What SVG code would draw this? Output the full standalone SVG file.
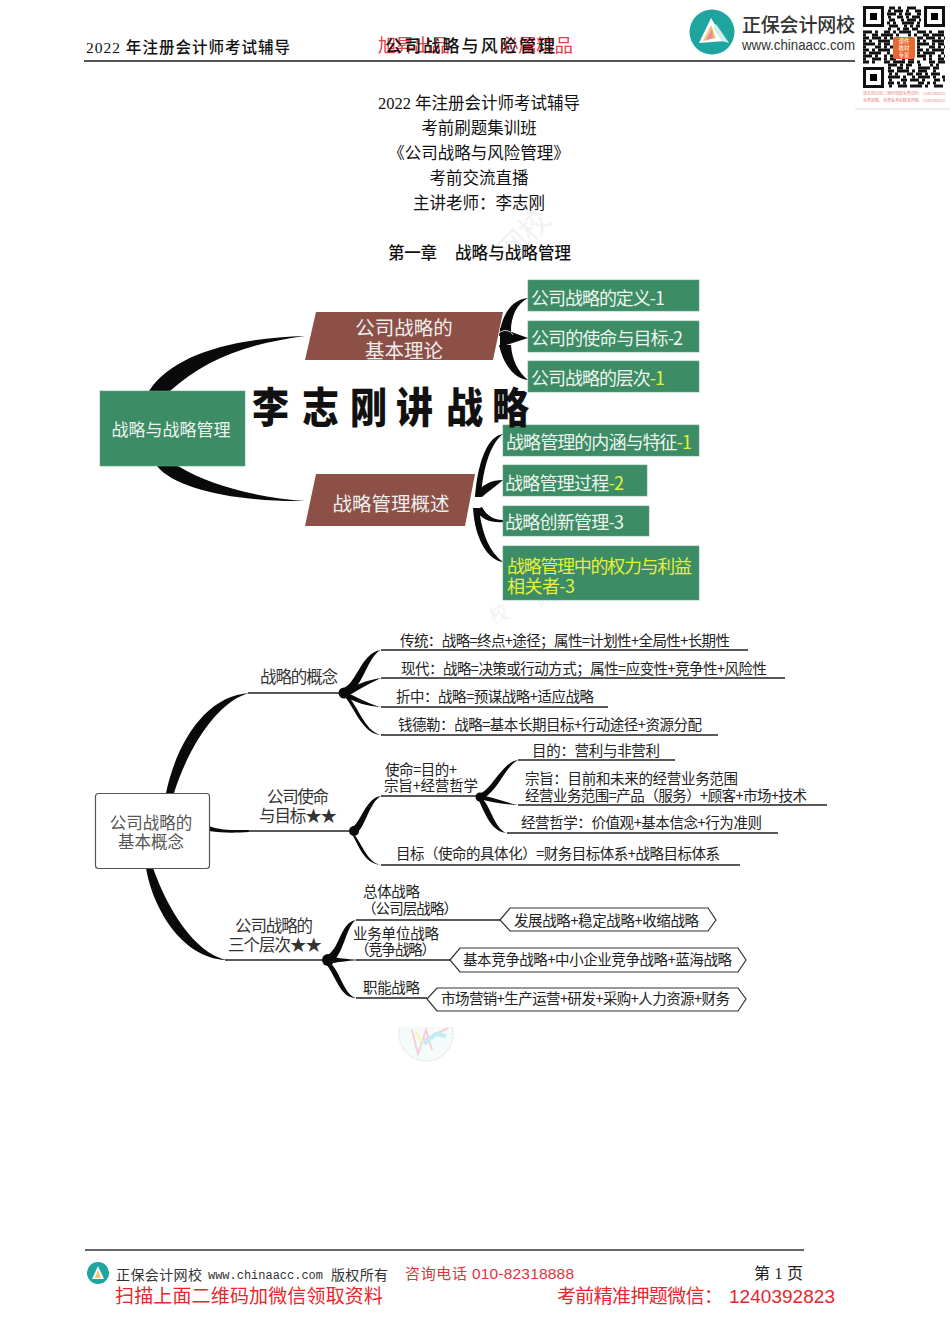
<svg xmlns="http://www.w3.org/2000/svg" width="950" height="1344" viewBox="0 0 950 1344">
<style>
text{font-family:"Liberation Serif","Noto Sans CJK SC",serif;fill:#111}
.s{font-family:"Noto Sans CJK SC","Liberation Sans",sans-serif}
.c{text-anchor:middle}
.t{font-size:14.5px;fill:#222}
.m{font-size:16.5px;fill:#333}
.g{fill:#3c8c66;stroke:#5fa585;stroke-width:.6}
.b{fill:#8c5047}
.w{font-size:18px;fill:#eef5ef}
.y{fill:#e6f03c}
.h{fill:#fff;stroke:#333;stroke-width:1.2}
.l{stroke:#222;stroke-width:1.3;fill:none}
.k{fill:#0a0a0a;stroke:none}
.q{fill:none;stroke:#111;stroke-width:3}
.f{fill:none;stroke:#111;stroke-width:3}
</style>
<rect width="950" height="1344" fill="#fff"/>

<g id="watermarks">
<text x="0" y="0" class="s" transform="translate(510 264) rotate(-45)" font-size="30" style="fill:#f2f2f2">网校</text>
<text x="0" y="0" class="s" transform="translate(492 624) rotate(-20)" font-size="20" style="fill:#f3f3f3" textLength="70">校 网</text>
<clipPath id="wmc"><rect x="395" y="1027" width="64" height="40"/></clipPath>
<g clip-path="url(#wmc)" opacity=".65">
<circle cx="426" cy="1034" r="27" fill="#eef9fa" stroke="#e8d9dc" stroke-width="1.5" stroke-dasharray="2 1"/>
<path d="M412 1030l6 24 8-24 6 20M424 1040l24-12" fill="none" stroke="#f4b6c4" stroke-width="2"/>
<path d="M424 1044l12-10 10 2" fill="none" stroke="#9fe6ea" stroke-width="4"/>
<path d="M416 1032l6 10" fill="none" stroke="#f7efa0" stroke-width="3"/>
</g>
</g>

<g id="header">
<text x="378" y="52" font-size="18.5" class="s" textLength="72" style="fill:#e2424a">旭昇出品</text>
<text x="500" y="52" font-size="18.5" class="s" textLength="73" style="fill:#e2424a">必属精品</text>
<text x="86" y="53" font-size="15.5" font-weight="500" textLength="204">2022 年注册会计师考试辅导</text>
<text x="385" y="52" font-size="17" font-weight="500" textLength="170">公司战略与风险管理</text>
<line x1="84" y1="61" x2="855" y2="61" stroke="#555" stroke-width="2"/>
<g id="logo">
<circle cx="712" cy="32" r="22.5" fill="#1ea5a0"/>
<path d="M699 43L711 18L725 41Z" fill="#fff"/>
<path d="M703 41L711 25L716 38Z" fill="#f2c46e"/>
<path d="M706 40L712 29L713 38Z" fill="#e58aa0"/>
<path d="M716 24L729 43L722 41L713 28Z" fill="#cfeeee"/>
</g>
<text x="742" y="32" font-size="19" font-weight="500" class="s" textLength="113" style="fill:#333">正保会计网校</text>
<text x="742" y="50" font-size="14" style="font-family:'Liberation Sans',sans-serif;fill:#333" textLength="113" lengthAdjust="spacingAndGlyphs">www.chinaacc.com</text>
</g>

<g id="qrcode">
<rect x="855" y="0" width="95" height="112" fill="#fff"/>
<g class="q">
<path d="M889 8h30" stroke-dasharray="6 3 3 6 9 3"/>
<path d="M888 11h33" stroke-dasharray="3 3 9 3 3 6 6"/>
<path d="M887 14h34" stroke-dasharray="9 3 3 3 6 6"/>
<path d="M888 17h32" stroke-dasharray="3 6 6 3 3 3 9"/>
<path d="M889 20h32" stroke-dasharray="6 6 3 3 9 3"/>
<path d="M887 23h33" stroke-dasharray="3 3 3 6 12 3"/>
<path d="M889 26h31" stroke-dasharray="9 6 3 3 3 3"/>
<path d="M888 29h32" stroke-dasharray="3 6 3 3 6 3 6"/>
<path d="M863 32h82" stroke-dasharray="9 3 3 6 6 3 3 3 12 6"/>
<path d="M863 35h82" stroke-dasharray="3 6 6 3 12 3 3 9 3 3"/>
<path d="M863 38h30M917 38h28" stroke-dasharray="6 3 9 3 3 3"/>
<path d="M863 41h30M917 41h28" stroke-dasharray="3 3 3 6 12"/>
<path d="M863 44h30M917 44h28" stroke-dasharray="12 3 3 3 6"/>
<path d="M863 47h30M917 47h28" stroke-dasharray="3 9 6 3 3"/>
<path d="M863 50h30M917 50h28" stroke-dasharray="6 3 3 3 12 3"/>
<path d="M863 53h30M917 53h28" stroke-dasharray="3 3 12 6 3"/>
<path d="M863 56h30M917 56h28" stroke-dasharray="9 3 3 6 3 3"/>
<path d="M863 59h82" stroke-dasharray="3 6 9 3 3 3 6 6 3"/>
<path d="M863 62h82" stroke-dasharray="6 3 3 9 6 3 12 3"/>
<path d="M888 65h57" stroke-dasharray="9 3 3 3 6 6 3"/>
<path d="M888 68h57" stroke-dasharray="3 6 6 3 3 9 12"/>
<path d="M888 71h57" stroke-dasharray="6 3 12 3 3 3 9"/>
<path d="M889 74h56" stroke-dasharray="3 3 3 9 6 3 6"/>
<path d="M888 77h57" stroke-dasharray="12 3 3 6 3 3"/>
<path d="M889 80h56" stroke-dasharray="3 9 6 3 9 3"/>
<path d="M888 83h57" stroke-dasharray="6 3 3 3 3 12"/>
<path d="M889 86h56" stroke-dasharray="3 6 9 3 12 3"/>
</g>
<rect x="864.5" y="7.5" width="18" height="18" class="f"/><rect x="870" y="13" width="7" height="7"/>
<rect x="925.5" y="7.5" width="18" height="18" class="f"/><rect x="931" y="13" width="7" height="7"/>
<rect x="864.5" y="68.5" width="18" height="18" class="f"/><rect x="870" y="74" width="7" height="7"/>
<rect x="893" y="37" width="22" height="22" rx="2" fill="#e9682c"/>
<g class="s c" font-size="5.5"><text x="904" y="43" style="fill:#fff">课件</text><text x="904" y="50" style="fill:#fff">教材</text><text x="904" y="57" style="fill:#fff">专家</text></g>
<text x="863" y="95" class="s" font-size="4" style="fill:#e88" textLength="82">请长按识别二维码领取免费资料：1240392823</text>
<text x="863" y="102" class="s" font-size="4" style="fill:#e88" textLength="82">免费刷题，免费看考前精准押题：1240392823</text>
<line x1="855" y1="109" x2="950" y2="109" stroke="#ddd"/>
</g>

<g id="title">
<text x="479" y="108.500" class="c" font-size="16.500">2022 年注册会计师考试辅导</text>
<text x="479" y="133.500" class="c" font-size="16.500">考前刷题集训班</text>
<text x="479" y="158.500" class="c" font-size="16.500">《公司战略与风险管理》</text>
<text x="479" y="183.500" class="c" font-size="16.500">考前交流直播</text>
<text x="479" y="208.500" class="c" font-size="16.500">主讲老师：李志刚</text>
<text x="388" y="259" font-size="16.500" font-weight="500" textLength="49">第一章</text>
<text x="455" y="259" font-size="16.500" font-weight="500" textLength="116">战略与战略管理</text>
</g>

<g id="connectors">
<path class="k" d="M149 391C172 355 232 338 305 336C245 344 205 360 170 391Z"/>
<path class="k" d="M157 466C176 490 240 502 305 501C262 498 212 487 178 466Z"/>
<path class="k" d="M528 298C510 300 502 316 499 336L511 336C510 318 516 304 528 298Z"/>
<path class="k" d="M500 328L528 338L500 347Z"/>
<path class="k" d="M528 380C512 378 503 362 499 345L511 345C512 360 518 372 528 380Z"/>
<path d="M499 333C504 329 510 330 513 335" fill="none" stroke="#fff" stroke-width=".8"/>
<path class="k" d="M503 434C488 436 478 460 475 497L481 497C483 465 492 442 503 434Z"/>
<path class="k" d="M503 480C492 480 482 484 475 495L482 497C490 490 496 486 503 480Z"/>
<path class="k" d="M503 520C492 520 486 514 482 507L475 510C482 520 492 523 503 522Z"/>
<path class="k" d="M503 562C488 560 475 540 473 508L479 508C482 535 490 552 503 562Z"/>
<path d="M474 500C478 497 483 499 485 506" fill="none" stroke="#fff" stroke-width=".8"/>
<path class="k" d="M166 793C176 745 205 695 250 693C218 700 188 748 174 793Z"/>
<path class="k" d="M209 826C222 831 236 830 249 830L249 832C234 833 222 833 209 831Z"/>
<path class="k" d="M146 868C152 905 180 958 226 960C194 952 168 910 153 868Z"/>
<path class="l" d="M248 693H342M248 831H350M225 960H325M381 796H478"/>
<path class="l" d="M381 650H748M381 678H785M381 707H608M381 735H718M518 760H675M518 805H827M507 833H778M381 865H740M356 920H500M356 960H450M356 998H427"/>
<circle class="k" cx="344" cy="693" r="5.500"/>
<path class="k" d="M344 688C357 682 362 652 381 650C368 656 364 684 348 696Z"/>
<path class="k" d="M344 690C355 686 366 680 381 678C368 684 358 690 348 696Z"/>
<path class="k" d="M344 692C356 696 368 704 381 707C366 706 354 702 344 696Z"/>
<path class="k" d="M344 692C356 700 364 732 381 735C362 734 354 706 344 696Z"/>
<circle class="k" cx="354" cy="831" r="5"/>
<path class="k" d="M352 828C362 820 366 798 381 796C370 802 366 824 358 832Z"/>
<path class="k" d="M352 832C362 842 366 862 381 865C364 864 358 844 352 834Z"/>
<circle class="k" cx="480" cy="797" r="4.500"/>
<path class="k" d="M479 794C492 790 502 762 518 760C506 766 498 790 484 798Z"/>
<path class="k" d="M480 795C492 797 505 802 518 805C502 804 490 802 480 799Z"/>
<path class="k" d="M480 797C490 802 494 830 507 833C490 832 484 810 478 799Z"/>
<circle class="k" cx="328" cy="960" r="6"/>
<path class="k" d="M326 956C340 950 340 922 356 920C346 926 344 954 332 962Z"/>
<path class="k" d="M328 956C338 958 346 959 358 960C346 961 338 962 328 964Z"/>
<path class="k" d="M326 960C340 966 342 994 356 998C340 998 336 976 326 964Z"/>
</g>

<g id="node-strategy"><rect class="g" x="100" y="391" width="145" height="75"/><text x="171" y="436" class="c s" font-size="17" style="fill:#eef5ef">战略与战略管理</text></g>
<g id="node-theory"><path class="b" d="M316 312H503L493 360H305Z"/><text x="404" y="335" class="c s" font-size="19.500" style="fill:#eee">公司战略的</text><text x="404" y="358" class="c s" font-size="19.500" style="fill:#eee">基本理论</text></g>
<g id="node-overview"><path class="b" d="M316 474H475L465 526H305Z"/><text x="391" y="511" class="c s" font-size="19.500" style="fill:#eee">战略管理概述</text></g>
<g id="node-def"><rect class="g" x="528" y="280" width="171" height="31"/><text x="531" y="305" class="w s" textLength="134">公司战略的定义-1</text></g>
<g id="node-mission"><rect class="g" x="528" y="321" width="171" height="31"/><text x="531" y="345" class="w s" textLength="152">公司的使命与目标-2</text></g>
<g id="node-level"><rect class="g" x="528" y="361" width="171" height="31"/><text x="531" y="385" class="w s" textLength="134">公司战略的层次<tspan class="y">-1</tspan></text></g>
<g id="node-meaning"><rect class="g" x="503" y="425" width="196" height="31"/><text x="506" y="449" class="w s" textLength="186">战略管理的内涵与特征<tspan class="y">-1</tspan></text></g>
<g id="node-process"><rect class="g" x="503" y="465" width="144" height="31"/><text x="505" y="490" class="w s" textLength="119">战略管理过程<tspan class="y">-2</tspan></text></g>
<g id="node-innovation"><rect class="g" x="503" y="506" width="146" height="30"/><text x="505" y="529" class="w s" textLength="119">战略创新管理-3</text></g>
<g id="node-power"><rect class="g" x="503" y="546" width="196" height="54"/><text x="507" y="573" class="w s y" textLength="185">战略管理中的权力与利益</text><text x="507" y="593" class="w s y" textLength="68">相关者-3</text></g>

<g id="brush-title"><text x="252 302 350 396 446 492" y="374" transform="scale(1 1.13)" class="s" font-size="37" font-weight="900">李志刚讲战略</text></g>

<g id="node-concept-root"><rect class="h" x="95.500" y="793.500" width="114" height="75" rx="3" style="stroke:#555"/><text x="151" y="829" class="c s m" style="fill:#555">公司战略的</text><text x="151" y="848" class="c s m" style="fill:#555">基本概念</text></g>
<g id="node-concept"><text x="260" y="683" class="s m" textLength="78">战略的概念</text></g>
<g id="node-traditional"><text x="400" y="646" class="s t" textLength="330">传统：战略=终点+途径；属性=计划性+全局性+长期性</text></g>
<g id="node-modern"><text x="401" y="674" class="s t" textLength="366">现代：战略=决策或行动方式；属性=应变性+竞争性+风险性</text></g>
<g id="node-eclectic"><text x="396" y="702" class="s t" textLength="198">折中：战略=预谋战略+适应战略</text></g>
<g id="node-chandler"><text x="398" y="730" class="s t" textLength="304">钱德勒：战略=基本长期目标+行动途径+资源分配</text></g>
<g id="node-mission-goal"><text x="267" y="803" class="s m" textLength="62">公司使命</text><text x="259" y="822" class="s m" textLength="78">与目标★★</text></g>
<g id="node-mission-eq"><text x="385" y="775" class="s t" textLength="72">使命=目的+</text><text x="384" y="791" class="s t" textLength="94">宗旨+经营哲学</text></g>
<g id="node-purpose"><text x="532" y="756" class="s t" textLength="128">目的：营利与非营利</text></g>
<g id="node-tenet"><text x="525" y="784" class="s t" textLength="213">宗旨：目前和未来的经营业务范围</text><text x="525" y="801" class="s t" textLength="282">经营业务范围=产品（服务）+顾客+市场+技术</text></g>
<g id="node-philosophy"><text x="521" y="828" class="s t" textLength="241">经营哲学：价值观+基本信念+行为准则</text></g>
<g id="node-goal"><text x="396" y="859" class="s t" textLength="324">目标（使命的具体化）=财务目标体系+战略目标体系</text></g>
<g id="node-levels"><text x="235" y="932" class="s m" textLength="78">公司战略的</text><text x="228" y="951" class="s m" textLength="94">三个层次★★</text></g>
<g id="node-corporate"><text x="363" y="897" class="s t" textLength="57">总体战略</text><text x="362" y="914" class="s t" textLength="96">（公司层战略）</text></g>
<g id="node-business"><text x="353" y="939" class="s t" textLength="86">业务单位战略</text><text x="355" y="955" class="s t" textLength="81">（竞争战略）</text></g>
<g id="node-functional"><text x="363" y="993" class="s t" textLength="57">职能战略</text></g>
<g id="node-box1"><path class="h" d="M500 920L510 908H708L716 920L708 931H510Z"/><text x="514" y="926" class="s t" textLength="185">发展战略+稳定战略+收缩战略</text></g>
<g id="node-box2"><path class="h" d="M450 960L460 948H738L746 960L738 972H460Z"/><text x="463" y="965" class="s t" textLength="269">基本竞争战略+中小企业竞争战略+蓝海战略</text></g>
<g id="node-box3"><path class="h" d="M427 999L437 988H738L746 999L738 1011H437Z"/><text x="441" y="1004" class="s t" textLength="289">市场营销+生产运营+研发+采购+人力资源+财务</text></g>

<g id="footer">
<line x1="85" y1="1250" x2="804" y2="1250" stroke="#333" stroke-width="1.500"/>
<circle cx="98" cy="1273" r="11" fill="#1ea5a0"/>
<path d="M92 1279L98 1266L104 1279Z" fill="#fff"/><path d="M95 1278L98 1270L101 1278Z" fill="#f2c46e"/>
<text x="116" y="1280" class="s" font-size="14" textLength="86" style="fill:#333">正保会计网校</text>
<text x="208" y="1279" font-size="12" textLength="115" style="font-family:'Liberation Mono',monospace;fill:#333">www.chinaacc.com</text>
<text x="331" y="1280" class="s" font-size="14" textLength="57" style="fill:#333">版权所有</text>
<text x="405" y="1279" class="s" font-size="15" textLength="62" style="fill:#e2323a">咨询电话</text>
<text x="472" y="1279" font-size="15.500" textLength="102" style="font-family:'Liberation Sans',sans-serif;fill:#e2323a">010-82318888</text>
<text x="754" y="1279" font-size="16" textLength="49" style="fill:#222">第 1 页</text>
<text x="115" y="1303" class="s" font-size="19" textLength="268" style="fill:#e8262c">扫描上面二维码加微信领取资料</text>
<text x="557" y="1303" class="s" font-size="19" textLength="166" style="fill:#e8262c">考前精准押题微信：</text>
<text x="729" y="1303" font-size="19" textLength="106" style="font-family:'Liberation Sans',sans-serif;fill:#e8262c">1240392823</text>
</g>
</svg>
